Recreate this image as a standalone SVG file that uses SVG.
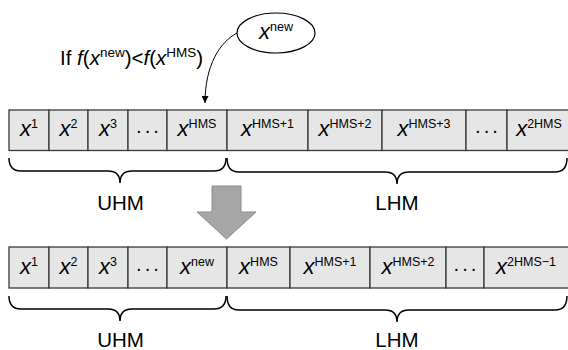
<svg xmlns="http://www.w3.org/2000/svg" width="568" height="350" viewBox="0 0 568 350">
<style>
text{font-family:"Liberation Sans",Arial,sans-serif;fill:#000}
.cell{fill:#e6e6e6;stroke:#3a3a3a;stroke-width:1.3}
.x{font-size:22px;text-anchor:middle}
.x .i{font-style:italic}
.sup{font-size:12.5px}
.dots{font-size:20px;text-anchor:middle;letter-spacing:2px}
.brace{fill:none;stroke:#000;stroke-width:1.5}
.lbl{font-size:20.5px;text-anchor:middle}
</style>
<defs>
<marker id="ah" viewBox="0 0 10 10" refX="10" refY="5" markerWidth="7" markerHeight="7" orient="auto" markerUnits="userSpaceOnUse">
<path d="M0,0 L10,5 L0,10 z" fill="#000"/>
</marker>
</defs>
<rect width="568" height="350" fill="#fff"/>

<g id="condition">
<text x="60" y="65" font-size="20.5">If <tspan font-style="italic">f</tspan>(<tspan font-style="italic">x</tspan><tspan font-size="13.5" dy="-8">new</tspan><tspan dy="8">)&lt;</tspan><tspan font-style="italic">f</tspan>(<tspan font-style="italic">x</tspan><tspan font-size="13.5" dy="-8">HMS</tspan><tspan dy="8">)</tspan></text>
</g>

<g id="xnew-node">
<ellipse cx="276" cy="33" rx="39" ry="20" fill="#fff" stroke="#000" stroke-width="1.2"/>
<text class="x" x="276" y="39"><tspan class="i">x</tspan><tspan class="sup" dy="-8">new</tspan></text>
</g>

<g id="top-row">
<rect class="cell" x="9" y="110" width="40" height="40.5"/>
<rect class="cell" x="49" y="110" width="39" height="40.5"/>
<rect class="cell" x="88" y="110" width="40" height="40.5"/>
<rect class="cell" x="128" y="110" width="39" height="40.5"/>
<rect class="cell" x="167" y="110" width="60" height="40.5"/>
<rect class="cell" x="227" y="110" width="81" height="40.5"/>
<rect class="cell" x="308" y="110" width="74" height="40.5"/>
<rect class="cell" x="382" y="110" width="84" height="40.5"/>
<rect class="cell" x="466" y="110" width="41" height="40.5"/>
<rect class="cell" x="507" y="110" width="80" height="40.5"/>
<text class="x" x="29" y="136"><tspan class="i">x</tspan><tspan class="sup" dy="-8">1</tspan></text>
<text class="x" x="68.5" y="136"><tspan class="i">x</tspan><tspan class="sup" dy="-8">2</tspan></text>
<text class="x" x="108" y="136"><tspan class="i">x</tspan><tspan class="sup" dy="-8">3</tspan></text>
<text class="dots" x="148.5" y="137">···</text>
<text class="x" x="197" y="136"><tspan class="i">x</tspan><tspan class="sup" dy="-8">HMS</tspan></text>
<text class="x" x="267.5" y="136"><tspan class="i">x</tspan><tspan class="sup" dy="-8">HMS+1</tspan></text>
<text class="x" x="345" y="136"><tspan class="i">x</tspan><tspan class="sup" dy="-8">HMS+2</tspan></text>
<text class="x" x="424" y="136"><tspan class="i">x</tspan><tspan class="sup" dy="-8">HMS+3</tspan></text>
<text class="dots" x="487.5" y="137">···</text>
<text class="x" x="539" y="136"><tspan class="i">x</tspan><tspan class="sup" dy="-8">2HMS</tspan></text>
</g>

<g id="bottom-row">
<rect class="cell" x="9" y="247" width="40" height="41"/>
<rect class="cell" x="49" y="247" width="39" height="41"/>
<rect class="cell" x="88" y="247" width="40" height="41"/>
<rect class="cell" x="128" y="247" width="39" height="41"/>
<rect class="cell" x="167" y="247" width="60" height="41"/>
<rect class="cell" x="227" y="247" width="63" height="41"/>
<rect class="cell" x="290" y="247" width="80" height="41"/>
<rect class="cell" x="370" y="247" width="76" height="41"/>
<rect class="cell" x="446" y="247" width="38" height="41"/>
<rect class="cell" x="484" y="247" width="100" height="41"/>
<text class="x" x="29" y="274"><tspan class="i">x</tspan><tspan class="sup" dy="-8">1</tspan></text>
<text class="x" x="68.5" y="274"><tspan class="i">x</tspan><tspan class="sup" dy="-8">2</tspan></text>
<text class="x" x="108" y="274"><tspan class="i">x</tspan><tspan class="sup" dy="-8">3</tspan></text>
<text class="dots" x="148.5" y="275">···</text>
<text class="x" x="197" y="274"><tspan class="i">x</tspan><tspan class="sup" dy="-8">new</tspan></text>
<text class="x" x="258.5" y="274"><tspan class="i">x</tspan><tspan class="sup" dy="-8">HMS</tspan></text>
<text class="x" x="330" y="274"><tspan class="i">x</tspan><tspan class="sup" dy="-8">HMS+1</tspan></text>
<text class="x" x="408" y="274"><tspan class="i">x</tspan><tspan class="sup" dy="-8">HMS+2</tspan></text>
<text class="dots" x="466" y="275">···</text>
<text class="x" x="526" y="274"><tspan class="i">x</tspan><tspan class="sup" dy="-8">2HMS−1</tspan></text>
</g>

<g id="braces">
<path class="brace" d="M9,158 Q9,171 21,171 L108,171 Q120,171 120,183 Q120,171 132,171 L214,171 Q226,171 226,158"/>
<path class="brace" d="M227,158 Q227,172 239,172 L385,172 Q397,172 397,184 Q397,172 409,172 L555,172 Q567,172 567,158"/>
<path class="brace" d="M9,296 Q9,309 21,309 L108,309 Q120,309 120,321 Q120,309 132,309 L214,309 Q226,309 226,296"/>
<path class="brace" d="M227,296 Q227,310 239,310 L385,310 Q397,310 397,322 Q397,310 409,310 L555,310 Q567,310 567,296"/>
</g>

<g id="labels">
<text class="lbl" x="120.5" y="210">UHM</text>
<text class="lbl" x="397" y="210">LHM</text>
<text class="lbl" x="120.5" y="347">UHM</text>
<text class="lbl" x="397" y="347">LHM</text>
</g>

<g id="connectors">
<path d="M237,33 C220,42 205,65 205,103" fill="none" stroke="#000" stroke-width="1" marker-end="url(#ah)"/>
<polygon points="212,186 241,186 241,212 256,212 226.5,239 197,212 212,212" fill="#a6a6a6" stroke="#8c8c8c" stroke-width="1"/>
</g>
</svg>
